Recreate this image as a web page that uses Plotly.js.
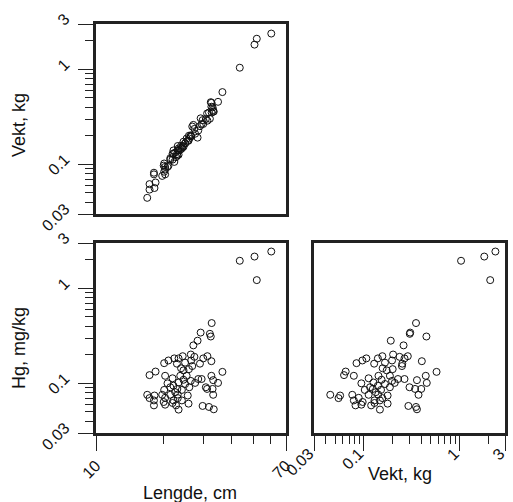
<!DOCTYPE html>
<html>
<head>
<meta charset="utf-8">
<script src="https://cdn.plot.ly/plotly-3.0.1.min.js"></script>
<style>
html,body{margin:0;padding:0;background:#fff;}
#plot{width:513px;height:502px;}
</style>
</head>
<body>
<div id="plot"></div>
<script>
// Fish data: length (cm), weight (kg), mercury (mg/kg)
const lengde = [60.2, 51.9, 50.7, 43.6, 32.7, 29.2, 32.1, 32.4, 28.3, 27.1,
  26.4, 31.3, 30.0, 27.4, 24.3, 22.3, 21.0, 20.1, 23.3, 32.6,
  29.0, 26.5, 24.9, 22.9, 26.8, 23.9, 25.9, 24.5, 18.4, 17.3,
  36.5, 32.6, 20.3, 25.3, 23.7, 21.9, 28.5, 29.5, 33.2, 34.9,
  20.8, 27.6, 23.3, 24.9, 22.1, 26.0, 21.4, 30.8, 31.2, 33.0,
  20.1, 24.1, 22.5, 21.4, 33.2, 25.6, 23.1, 16.9, 18.2, 20.3,
  17.3, 23.1, 22.1, 18.1, 20.0, 24.1, 25.8, 18.1, 20.3, 21.9,
  22.7, 29.8, 31.8, 33.4, 23.3, 24.5, 26.4, 23.0, 19.7];
const vekt = [2.38, 2.10, 1.82, 1.04, 0.351, 0.305, 0.302, 0.451, 0.191, 0.260,
  0.202, 0.288, 0.266, 0.236, 0.156, 0.106, 0.0963, 0.0836, 0.140, 0.404,
  0.252, 0.197, 0.166, 0.128, 0.250, 0.157, 0.200, 0.173, 0.0644, 0.0619,
  0.576, 0.444, 0.0784, 0.187, 0.142, 0.112, 0.227, 0.266, 0.359, 0.455,
  0.094, 0.210, 0.126, 0.166, 0.140, 0.187, 0.116, 0.300, 0.343, 0.398,
  0.102, 0.151, 0.133, 0.112, 0.373, 0.177, 0.141, 0.0444, 0.0563, 0.0882,
  0.0542, 0.156, 0.129, 0.0784, 0.0970, 0.147, 0.177, 0.0816, 0.094, 0.129,
  0.119, 0.292, 0.351, 0.359, 0.147, 0.153, 0.197, 0.124, 0.0755];
const hg = [2.44, 1.22, 2.16, 1.95, 0.431, 0.342, 0.332, 0.311, 0.281, 0.251,
  0.201, 0.193, 0.183, 0.190, 0.193, 0.183, 0.174, 0.163, 0.183, 0.171,
  0.161, 0.174, 0.165, 0.161, 0.152, 0.144, 0.141, 0.137, 0.133, 0.122,
  0.132, 0.120, 0.120, 0.120, 0.120, 0.113, 0.111, 0.111, 0.108, 0.101,
  0.100, 0.101, 0.102, 0.0983, 0.0944, 0.0909, 0.0909, 0.0909, 0.0873, 0.0873,
  0.0852, 0.0852, 0.0807, 0.0757, 0.0757, 0.0744, 0.0762, 0.0757, 0.0744, 0.0704,
  0.0699, 0.0699, 0.0661, 0.0661, 0.0636, 0.0661, 0.0611, 0.0586, 0.0596, 0.0621,
  0.0586, 0.0578, 0.0564, 0.0533, 0.0529, 0.109, 0.106, 0.0873, 0.0757];

const logTicks = [0.03, 0.1, 1, 3];
const logTickText = ['0.03', '0.1', '1', '3'];
const logMinor = [0.04, 0.05, 0.06, 0.07, 0.08, 0.09, 0.2, 0.3, 0.4, 0.5, 0.6, 0.7, 0.8, 0.9, 2];
const lenTicks = [10, 70];
const lenTickText = ['10', '70'];
const lenMinor = [20, 30, 40, 50, 60];

const W = 513, H = 502;
const px = v => v / W;
const py = v => 1 - v / H;

const marker = {symbol: 'circle-open', size: 7, color: '#111', line: {width: 1, color: '#111'}};
const traces = [
  {x: lengde, y: vekt, xaxis: 'x', yaxis: 'y', type: 'scatter', mode: 'markers', marker: marker, hoverinfo: 'none'},
  {x: lengde, y: hg, xaxis: 'x2', yaxis: 'y2', type: 'scatter', mode: 'markers', marker: marker, hoverinfo: 'none'},
  {x: vekt, y: hg, xaxis: 'x3', yaxis: 'y3', type: 'scatter', mode: 'markers', marker: marker, hoverinfo: 'none'}
];

const frame = {showline: true, linewidth: 3, linecolor: '#222', mirror: true, showgrid: false, zeroline: false, fixedrange: true};
const tickFont = {family: 'Liberation Sans, Arial, sans-serif', size: 16, color: '#111'};
const logRange = [Math.log10(0.03), Math.log10(3)];
const lenRange = [1, Math.log10(70)];

function logAxisTicks(extra) {
  return Object.assign({}, frame, {
    type: 'log', range: logRange, tickmode: 'array', tickvals: logTicks, ticktext: logTickText,
    ticks: 'outside', ticklen: 15, tickwidth: 1, tickcolor: '#222', tickangle: -45, tickfont: tickFont,
    minor: {tickmode: 'array', tickvals: logMinor, ticks: 'outside', ticklen: 8, tickwidth: 1, tickcolor: '#222', showgrid: false}
  }, extra);
}

const d1x = [px(96), px(286)];
const d3x = [px(314), px(505)];
const d1y = [py(214), py(24)];
const d2y = [py(433), py(243)];

const layout = {
  width: W, height: H,
  margin: {l: 0, r: 0, t: 0, b: 0},
  paper_bgcolor: '#fff', plot_bgcolor: '#fff',
  showlegend: false,
  font: {family: 'Liberation Sans, Arial, sans-serif', color: '#111'},
  xaxis: Object.assign({}, frame, {type: 'log', range: lenRange, domain: d1x, anchor: 'y', showticklabels: false, ticks: ''}),
  yaxis: logAxisTicks({domain: d1y, anchor: 'x', ticklabelstandoff: 10, ticklabelshift: -7}),
  xaxis2: Object.assign({}, frame, {
    type: 'log', range: lenRange, domain: d1x, anchor: 'y2', tickmode: 'array', tickvals: lenTicks, ticktext: lenTickText,
    ticks: 'outside', ticklen: 15, tickwidth: 1, tickcolor: '#222', tickangle: -45, tickfont: tickFont,
    ticklabelstandoff: -1,
    minor: {tickmode: 'array', tickvals: lenMinor, ticks: 'outside', ticklen: 8, tickwidth: 1, tickcolor: '#222', showgrid: false}
  }),
  yaxis2: logAxisTicks({domain: d2y, anchor: 'x2', ticklabelstandoff: 10, ticklabelshift: -7}),
  xaxis3: logAxisTicks({domain: d3x, anchor: 'y3', ticklabelstandoff: -13, ticklabelshift: -5}),
  yaxis3: Object.assign({}, frame, {type: 'log', range: logRange, domain: d2y, anchor: 'x3', showticklabels: false, ticks: ''}),
  annotations: [
    {text: 'Vekt, kg', xref: 'paper', yref: 'paper', x: px(19), y: py(125), textangle: -90, showarrow: false,
      xanchor: 'center', yanchor: 'middle', font: {size: 18}},
    {text: 'Hg, mg/kg', xref: 'paper', yref: 'paper', x: px(19), y: py(348), textangle: -90, showarrow: false,
      xanchor: 'center', yanchor: 'middle', font: {size: 18}},
    {text: 'Lengde, cm', xref: 'paper', yref: 'paper', x: px(190), y: py(493), showarrow: false,
      xanchor: 'center', yanchor: 'middle', font: {size: 18}},
    {text: 'Vekt, kg', xref: 'paper', yref: 'paper', x: px(400), y: py(474), showarrow: false,
      xanchor: 'center', yanchor: 'middle', font: {size: 18}}
  ]
};

Plotly.newPlot('plot', traces, layout, {staticPlot: true, displayModeBar: false});
</script>
</body>
</html>
